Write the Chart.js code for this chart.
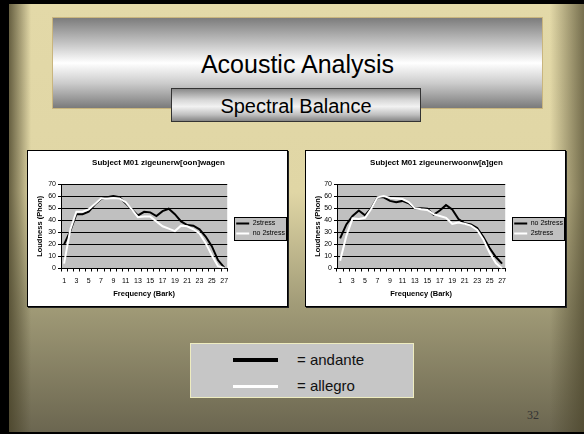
<!DOCTYPE html>
<html>
<head>
<meta charset="utf-8">
<script src="https://cdn.jsdelivr.net/npm/chart.js@4"></script>
<style>
  html, body { margin: 0; padding: 0; background: #000; }
  body { width: 584px; height: 434px; position: relative; overflow: hidden; font-family: "Liberation Sans", Arial, sans-serif; }
  #slide {
    position: absolute; left: 9px; top: 4px; width: 575px; height: 428px;
    background:
      linear-gradient(to right, rgba(72,66,40,.8) 0px, rgba(72,66,40,0) 22px, rgba(72,66,40,0) calc(100% - 34px), rgba(72,66,40,.7) 100%),
      linear-gradient(to bottom, #e3d9a8 0%, #e0d6a5 44%, #a29c78 70%, #6b6650 100%);
  }
  #banner {
    position: absolute; left: 43px; top: 13px; width: 489px; height: 90px;
    border: 1px solid #c9b57e;
    background: linear-gradient(to bottom, #7c7c7c 0%, #c4c4c4 28%, #ffffff 50%, #cdcdcd 72%, #7a7a7a 100%);
  }
  #banner span {
    position: absolute; left: 0; right: 0; top: 31px; text-align: center;
    font-size: 25px; color: #000; line-height: 30px;
  }
  #sub {
    position: absolute; left: 162px; top: 84px; width: 248px; height: 32px;
    border: 1px solid #333;
    background: linear-gradient(to bottom, #8a8a8a 0%, #d8d8d8 35%, #f2f2f2 55%, #c0c0c0 80%, #858585 100%);
    text-align: center; font-size: 20px; line-height: 34px; color: #000;
  }
  .box {
    position: absolute; top: 146px; width: 259px; height: 155px;
    border: 1px solid #000; background: #fff;
    box-shadow: 1px 1px 0 #222; overflow: hidden;
  }
  #box1 { left: 18px; }
  #box2 { left: 296px; }
  .box canvas { display: block; }
  #key {
    position: absolute; left: 181px; top: 339px; width: 222px; height: 53px;
    border: 1px solid #eeecc0; background: #c6c6c6;
  }
  #key .ln { position: absolute; left: 42px; width: 45px; }
  #key .tx { position: absolute; left: 106px; font-size: 15px; line-height: 18px; color: #111; }
  #page {
    position: absolute; left: 518px; top: 404px;
    font-family: "Liberation Serif", "Times New Roman", serif; font-size: 12px; color: #333;
  }
</style>
</head>
<body>
<div id="slide">
  <div id="banner"><span>Acoustic Analysis</span></div>
  <div id="sub">Spectral Balance</div>
  <div class="box" id="box1"><canvas id="chart1" width="259" height="155"></canvas></div>
  <div class="box" id="box2"><canvas id="chart2" width="259" height="155"></canvas></div>
  <div id="key">
    <div class="ln" style="top:14px;height:4px;background:#000"></div>
    <div class="tx" style="top:7px">= andante</div>
    <div class="ln" style="top:41px;height:3px;background:#fff"></div>
    <div class="tx" style="top:33px">= allegro</div>
  </div>
  <div id="page">32</div>
</div>

<script>
// Frequency bands (Bark)
const barks = ['1', '2', '3', '4', '5', '6', '7', '8', '9', '10', '11', '12', '13', '14',
  '15', '16', '17', '18', '19', '20', '21', '22', '23', '24', '25', '26', '27'];

// Loudness (Phon) – zigeunerw[oon]wagen
const oonStress   = [20, 31, 45, 45, 47, 53, 57.5, 59, 60, 59, 54, 49, 44, 47, 46.5, 43.5, 47.5, 49.5, 45, 39, 36, 35.5, 32.5, 26.5, 18.5, 7, 1];
const oonNoStress = [4, 32, 47, 47, 49, 53.5, 58, 58, 58.5, 58, 55, 49, 42.5, 43, 43, 39, 35, 33, 31, 35.5, 35, 32.5, 29, 21, 11, 2, 0.5];

// Loudness (Phon) – zigeunerwoonw[a]gen
const aNoStress = [25, 36.5, 43.5, 48, 44, 50, 59, 59, 56, 55, 56, 54, 50, 50, 49.5, 44.5, 48, 52.5, 49, 41, 37.5, 36.5, 33.5, 26, 17, 9.5, 4];
const aStress   = [6.5, 27, 41.5, 41, 42, 49.5, 59, 60, 58.5, 58, 57.5, 55, 50, 49, 48.5, 45, 43.5, 42, 37, 38, 37, 35.5, 32, 24, 13, 4.5, 0];

const loudnessTicks = [0, 10, 20, 30, 40, 50, 60, 70];

const FONT = '"Liberation Sans", Arial, sans-serif';
const LEGEND_GAP = 6; // Excel leaves a small gap between plot area and legend

// grey plot area + framed legend, like the old Excel charts
const excelLook = {
  id: 'excelLook',
  afterUpdate(chart) {
    const lg = chart.legend;
    if (!lg) return;
    lg.left += LEGEND_GAP;
    lg.right += LEGEND_GAP;
    (lg.legendHitBoxes || []).forEach(b => { b.left += LEGEND_GAP; });
  },
  beforeDraw(chart) {
    const { ctx, chartArea: a, legend } = chart;
    ctx.save();
    ctx.fillStyle = '#c0c0c0';
    ctx.fillRect(a.left, a.top, a.right - a.left, a.bottom - a.top);
    const hb = legend && legend.legendHitBoxes;
    if (hb && hb.length) {
      const l = Math.min(...hb.map(b => b.left)) - 2;
      const r = Math.max(...hb.map(b => b.left + b.width)) + 1;
      const t = Math.min(...hb.map(b => b.top)) - 3;
      const btm = Math.max(...hb.map(b => b.top + b.height)) + 3;
      ctx.fillStyle = '#c0c0c0';
      ctx.fillRect(l, t, r - l, btm - t);
      ctx.strokeStyle = '#000';
      ctx.lineWidth = 1;
      ctx.strokeRect(Math.round(l) + 0.5, Math.round(t) + 0.5, Math.round(r - l), Math.round(btm - t));
    }
    ctx.restore();
  }
};

function makeChart(canvas, title, first, second, axisWidth) {
  return new Chart(canvas, {
    type: 'line',
    data: {
      labels: barks,
      datasets: [
        { label: first.label, data: first.data, borderColor: first.color, backgroundColor: first.color,
          borderWidth: 2, pointRadius: 0, tension: 0, fill: false, order: 1 },
        { label: second.label, data: second.data, borderColor: second.color, backgroundColor: second.color,
          borderWidth: 2, pointRadius: 0, tension: 0, fill: false, order: 0 }
      ]
    },
    options: {
      responsive: false,
      devicePixelRatio: 1,
      animation: false,
      layout: { padding: { left: 0, right: -2, top: 0, bottom: 0 } },
      plugins: {
        title: {
          display: true, text: title, color: '#000',
          font: { family: FONT, size: 8, weight: 'bold' },
          padding: { top: 7, bottom: 16.4 }
        },
        legend: {
          position: 'right',
          labels: {
            color: '#000', font: { family: FONT, size: 7 },
            usePointStyle: true, pointStyle: 'line', pointStyleWidth: 13,
            boxHeight: 7, padding: 3,
            sort: (a, b) => a.datasetIndex - b.datasetIndex
          }
        },
        tooltip: { enabled: false }
      },
      scales: {
        x: {
          offset: true,
          grid: { display: true, offset: true, drawOnChartArea: false, drawTicks: true, tickLength: 3, color: '#000' },
          border: { display: true, color: '#000', width: 1 },
          ticks: {
            autoSkip: false, maxRotation: 0, padding: 5, color: '#000',
            font: { family: FONT, size: 7 },
            callback: (v, i) => (i % 2 === 0 ? barks[i] : '')
          },
          title: {
            display: true, text: 'Frequency (Bark)', color: '#000',
            font: { family: FONT, size: 7.5, weight: 'bold' },
            padding: { top: 0, bottom: 7.5 }
          },
          afterFit: s => { s.height = 37.5; }
        },
        y: {
          min: 0, max: 70,
          afterBuildTicks: s => { s.ticks = loudnessTicks.map(v => ({ value: v })); },
          grid: { color: '#000', lineWidth: 1, drawTicks: true, tickLength: 3, tickColor: '#000' },
          border: { display: true, color: '#000', width: 1 },
          ticks: { padding: 2, color: '#000', font: { family: FONT, size: 7 } },
          title: {
            display: true, text: 'Loudness (Phon)', color: '#000',
            font: { family: FONT, size: 7.5, weight: 'bold' },
            padding: { top: 7.5, bottom: 0 }
          },
          afterFit: s => { s.width = axisWidth; }
        }
      }
    },
    plugins: [excelLook]
  });
}

makeChart(document.getElementById('chart1'), 'Subject M01 zigeunerw[oon]wagen',
  { label: '2stress', data: oonStress, color: '#000' },
  { label: 'no 2stress', data: oonNoStress, color: '#fff' }, 33);

makeChart(document.getElementById('chart2'), 'Subject M01 zigeunerwoonw[a]gen',
  { label: 'no 2stress', data: aNoStress, color: '#000' },
  { label: '2stress', data: aStress, color: '#fff' }, 31);
</script>
</body>
</html>
